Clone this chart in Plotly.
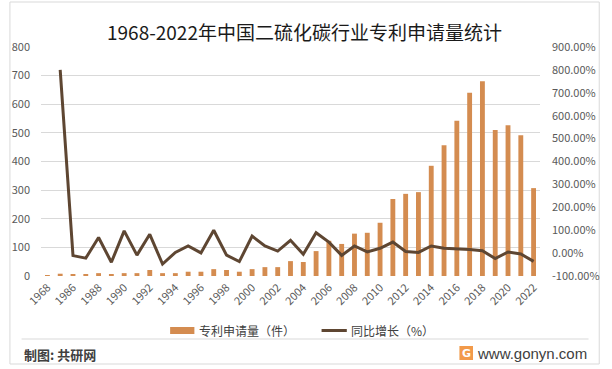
import plotly.graph_objects as go

years = ["1968"] + [str(y) for y in range(1985, 2023)]
applications = [3, 8, 7, 7, 10, 7, 10, 10, 21, 10,
                10, 15, 15, 24, 21, 15, 24, 31, 31, 52,
                49, 87, 123, 112, 148, 151, 186, 269, 287, 293,
                385, 457, 542, 640, 680, 510, 527, 492, 307]
growth = [None, 800, -11, -22, 68, -40, 97, -9, 82, -48,
          3, 31, 1, 100, -9, -37, 74, 31, 9, 56,
          -5, 89, 48, -10, 31, 5, 21, 48, 7, 3,
          31, 21, 19, 16, 10, -24, 5, -4, -36]
tick_years = years[::2]
left_ticks = list(range(0, 801, 100))
right_ticks = list(range(-100, 901, 100))

title_text = "1968-2022年中国二硫化碳行业专利申请量统计"
bar_name = "专利申请量（件）"
line_name = "同比增长（%）"

W, H = 612, 369
L, R, T, B = 35, 549, 47, 276
FONT = "Noto Sans CJK SC"
BAR_C = "#D48C50"
LINE_C = "#5E4632"


def px(x):
    return (x - L) / (R - L)


def py(y):
    return (B - y) / (B - T)


fig = go.Figure()
fig.add_trace(go.Bar(x=years, y=applications, name=bar_name,
                     marker=dict(color=BAR_C, line=dict(width=0)),
                     yaxis="y"))
fig.add_trace(go.Scatter(x=years, y=growth, name=line_name, mode="lines",
                         line=dict(color=LINE_C, width=3), yaxis="y2"))

shapes = []
annotations = []

# outer frame
shapes.append(dict(type="rect", xref="paper", yref="paper",
                   x0=px(3), x1=px(610), y0=py(2), y1=py(364),
                   line=dict(color="#D9D9D9", width=1), layer="below"))
# footer separator
shapes.append(dict(type="line", xref="paper", yref="paper",
                   x0=px(15), x1=px(599), y0=py(339), y1=py(339),
                   line=dict(color="#D9D9D9", width=1)))
# manual legend
shapes.append(dict(type="rect", xref="paper", yref="paper",
                   x0=px(168), x1=px(193), y0=py(327), y1=py(334),
                   fillcolor=BAR_C, line=dict(width=0)))
shapes.append(dict(type="line", xref="paper", yref="paper",
                   x0=px(324), x1=px(350), y0=py(330.5), y1=py(330.5),
                   line=dict(color=LINE_C, width=3)))
annotations.append(dict(text=bar_name, xref="paper", yref="paper",
                        x=px(196), y=py(330.5), xanchor="left", yanchor="middle",
                        showarrow=False, font=dict(family=FONT, size=12, color="#404040")))
annotations.append(dict(text=line_name, xref="paper", yref="paper",
                        x=px(352), y=py(330.5), xanchor="left", yanchor="middle",
                        showarrow=False, font=dict(family=FONT, size=12, color="#404040")))
# title
annotations.append(dict(text=title_text, xref="paper", yref="paper",
                        x=px(306), y=py(31), xanchor="center", yanchor="middle",
                        showarrow=False, font=dict(family=FONT, size=19, color="#1A1A1A")))
# footer
annotations.append(dict(text="<b>制图: 共研网</b>", xref="paper", yref="paper",
                        x=px(15), y=py(354), xanchor="left", yanchor="middle",
                        showarrow=False, font=dict(family=FONT, size=13, color="#404040")))
shapes.append(dict(type="rect", xref="paper", yref="paper",
                   x0=px(466), x1=px(480), y0=py(346), y1=py(360),
                   fillcolor="#F29A4A", line=dict(width=0)))
annotations.append(dict(text="<b>G</b>", xref="paper", yref="paper",
                        x=px(473), y=py(353), xanchor="center", yanchor="middle",
                        showarrow=False, font=dict(family="DejaVu Sans", size=11, color="white")))
annotations.append(dict(text="www.gonyn.com", xref="paper", yref="paper",
                        x=px(599), y=py(353), xanchor="right", yanchor="middle",
                        showarrow=False, font=dict(family="Liberation Sans", size=15, color="#404040")))

fig.update_layout(
    width=W, height=H,
    margin=dict(l=L, r=W - R, t=T, b=H - B, pad=0),
    paper_bgcolor="white", plot_bgcolor="white",
    showlegend=False,
    bargap=0.62,
    font=dict(family=FONT, color="#595959"),
    xaxis=dict(type="category", categoryorder="array", categoryarray=years,
               tickmode="array", tickvals=tick_years, ticktext=tick_years,
               tickangle=-45, tickfont=dict(size=11, color="#595959"),
               showgrid=False, showline=False, ticks="", ticklabelstandoff=2),
    yaxis=dict(range=[0, 800], tickmode="array", tickvals=left_ticks,
               tickfont=dict(size=11, color="#595959"),
               showgrid=True, gridcolor="#D9D9D9", gridwidth=1,
               zeroline=False, showline=False, ticks="", ticklabelstandoff=10),
    yaxis2=dict(range=[-100, 900], overlaying="y", side="right",
                tickmode="array", tickvals=right_ticks,
                ticktext=[f"{v:.2f}%" for v in right_ticks],
                tickfont=dict(size=11, color="#595959"),
                showgrid=False, zeroline=False, showline=False, ticks="",
                ticklabelstandoff=11),
    shapes=shapes, annotations=annotations,
)

fig.write_html("out.html", config={"displayModeBar": False},
               post_script="document.body.style.margin='0';document.body.style.overflow='hidden';")
